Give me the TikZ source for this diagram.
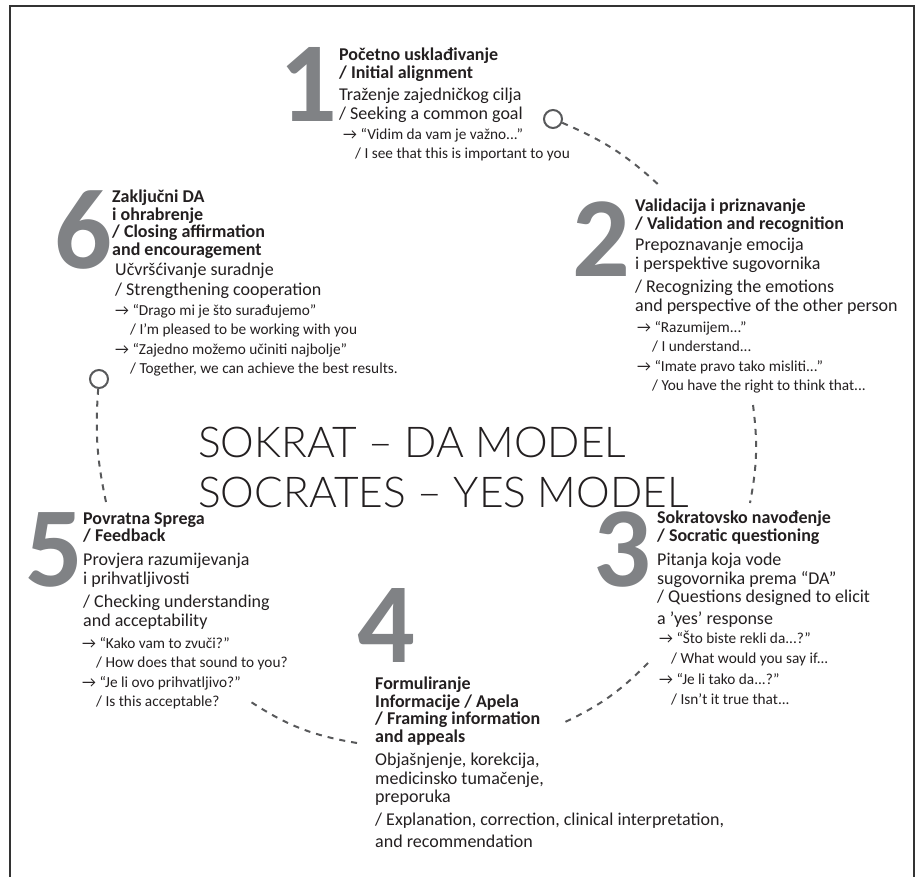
\documentclass[tikz,border=0pt]{standalone}
\usepackage{fontspec}
\setmainfont{Carlito}
\newfontfamily\titlefont{Lato}[UprightFont={* Light}]
\usetikzlibrary{positioning}
\definecolor{inkdark}{HTML}{231F20}
\definecolor{numgray}{HTML}{808285}
\definecolor{dashgray}{HTML}{58595B}
\newcommand{\qarr}{→\ }
\tikzset{
  stepnum/.style={font=\fontsize{114}{114}\selectfont\bfseries, text=numgray, inner sep=0pt, anchor=north west},
  stephead/.style={font=\fontsize{18}{17.5}\selectfont\bfseries, text=inkdark, align=left, inner sep=0pt, anchor=north west},
  stepdesc/.style={font=\fontsize{18}{18.5}\selectfont, text=inkdark, align=left, inner sep=0pt, anchor=north west},
  stepquote/.style={font=\fontsize{15.3}{19.5}\selectfont, text=inkdark, align=left, inner sep=0pt, anchor=north west},
  titletext/.style={font=\fontsize{42.5}{50}\selectfont\titlefont, text=inkdark, align=left, inner sep=0pt, anchor=north west},
  cycleline/.style={draw=dashgray, line width=2pt, dash pattern=on 6pt off 6pt},
  ring/.style={circle, draw=dashgray, line width=2pt, minimum size=18pt, inner sep=0pt},
}

\begin{document}
\begin{tikzpicture}[x=1pt,y=-1pt]
\useasboundingbox (0,0) rectangle (918,877);
\draw[black!80, line width=1.2pt] (10,877) -- (10,6) -- (914,6) -- (914,877);

% title
\node[titletext] (title) at (198,427) {SOKRAT – DA MODEL\\SOCRATES – YES MODEL};

% step 1
\node[stepnum] (num1) at (279,47) {1};
\node[stephead] (head1) at (339,48) {Početno usklađivanje\\/ Initial alignment};
\node[stepdesc] (desc1) at (339,88) {Traženje zajedničkog cilja\\/ Seeking a common goal};
\node[stepquote] (quote1) at (343,128) {\qarr“Vidim da vam je važno...”\\\hspace*{12pt}/ I see that this is important to you};

% step 2
\node[stepnum] (num2) at (572,202) {2};
\node[stephead] (head2) at (635,199) {Validacija i priznavanje\\/ Validation and recognition};
\node[stepdesc] (desc2) at (635,238) {Prepoznavanje emocija\\i perspektive sugovornika\\[5pt]/ Recognizing the emotions\\and perspective of the other person};
\node[stepquote] (quote2) at (637,321) {\qarr“Razumijem...”\\\hspace*{15pt}/ I understand...\\\qarr“Imate pravo tako misliti...”\\\hspace*{15pt}/ You have the right to think that...};

% step 3
\node[stepnum] (num3) at (593,512) {3};
\node[stephead] (head3) at (657,511) {Sokratovsko navođenje\\/ Socratic questioning};
\node[stepdesc] (desc3) at (657,553) {Pitanja koja vode\\sugovornika prema “DA”\\/ Questions designed to elicit\\[3pt]a 'yes' response};
\node[stepquote] (quote3) at (659,631) {\qarr“Što biste rekli da...?”\\\hspace*{12pt}/ What would you say if...\\[2pt]\qarr“Je li tako da...?”\\\hspace*{12pt}/ Isn’t it true that...};

% step 4
\node[stepnum] (num4) at (357,588) {4};
\node[stephead] (head4) at (375,677) {Formuliranje\\Informacije / Apela\\/ Framing information\\and appeals};
\node[stepdesc] (desc4) at (375,753) {Objašnjenje, korekcija,\\medicinsko tumačenje,\\preporuka\\[4pt]/ Explanation, correction, clinical interpretation,\\[4pt]and recommendation};

% step 5
\node[stepnum] (num5) at (25,512) {5};
\node[stephead] (head5) at (83,512) {Povratna Sprega\\/ Feedback};
\node[stepdesc] (desc5) at (83,553) {Provjera razumijevanja\\i prihvatljivosti\\[5pt]/ Checking understanding\\and acceptability};
\node[stepquote] (quote5) at (82,637) {\qarr“Kako vam to zvuči?”\\\hspace*{14pt}/ How does that sound to you?\\\qarr“Je li ovo prihvatljivo?”\\\hspace*{14pt}/ Is this acceptable?};

% step 6
\node[stepnum] (num6) at (54,190) {6};
\node[stephead] (head6) at (112,190) {Zaključni DA\\i ohrabrenje\\/ Closing affirmation\\and encouragement};
\node[stepdesc] (desc6) at (115,263) {Učvršćivanje suradnje\\[1.5pt]/ Strengthening cooperation};
\node[stepquote] (quote6) at (115,304) {\qarr“Drago mi je što surađujemo”\\\hspace*{15pt}/ I’m pleased to be working with you\\\qarr“Zajedno možemo učiniti najbolje”\\\hspace*{15pt}/ Together, we can achieve the best results.};

% dashed cycle
\node[ring] (ring1) at (553,119) {};
\node[ring] (ring6) at (99,379) {};
\coordinate (end12) at (662,188);
\coordinate (start23) at (753,405);
\coordinate (end23) at (750,503);
\coordinate (start34) at (648,663);
\coordinate (end34) at (563,723);
\coordinate (start45) at (357,743);
\coordinate (end45) at (248,700);
\coordinate (start56) at (106,502);
\draw[cycleline] (ring1) to[bend left=10] (end12);
\draw[cycleline] (start23) to[bend left=9] (end23);
\draw[cycleline] (start34) to[bend left=10] (end34);
\draw[cycleline] (start45) to[bend left=12] (end45);
\draw[cycleline] (start56) to[bend left=8] (ring6);
\end{tikzpicture}
\end{document}
